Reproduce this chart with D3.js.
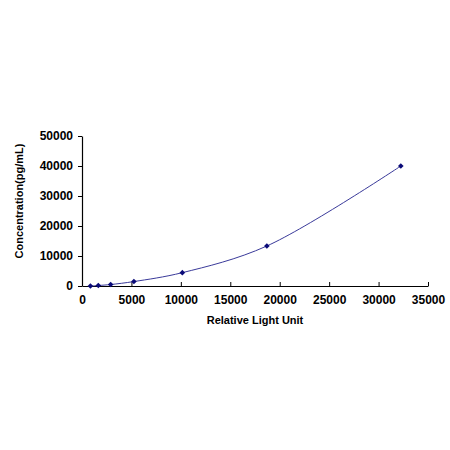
<!DOCTYPE html>
<html><head><meta charset="utf-8">
<script src="https://cdn.jsdelivr.net/npm/d3@7"></script>
<style>body{margin:0;background:#fff}svg{display:block}</style>
</head><body>
<script>
const rlu = [850, 1650, 2900, 5250, 10150, 18700, 32250];
const conc = [0, 165, 494, 1481, 4444, 13333, 40000];
const xTicks = [0, 5000, 10000, 15000, 20000, 25000, 30000, 35000];
const yTicks = [0, 10000, 20000, 30000, 40000, 50000];
const xTitle = "Relative Light Unit";
const yTitle = "Concentration(pg/mL)";

const W = 450, H = 450;
const svg = d3.select("body").append("svg").attr("width", W).attr("height", H);
const x = d3.scaleLinear().domain([0, 35000]).range([82, 428]);
const y = d3.scaleLinear().domain([0, 50000]).range([286, 136]);
const font = "Liberation Sans, Arial, sans-serif";

const gx = svg.append("g").attr("transform", "translate(0,286)")
  .call(d3.axisBottom(x).tickValues(xTicks).tickFormat(d3.format("d")).tickSizeInner(-4).tickSizeOuter(0).tickPadding(9));
const gy = svg.append("g").attr("transform", "translate(82,0)")
  .call(d3.axisLeft(y).tickValues(yTicks).tickFormat(d3.format("d")).tickSizeInner(4).tickSizeOuter(0).tickPadding(5));
[gx, gy].forEach(g => {
  g.select(".domain").attr("stroke", "#000").attr("stroke-width", 1.2);
  g.selectAll(".tick line").attr("stroke", "#000");
  g.selectAll("text").attr("font-family", font).attr("font-weight", "bold").attr("font-size", 12).attr("fill", "#000");
});

const pts = rlu.map((v, i) => [v, conc[i]]);
svg.append("path").datum(pts)
  .attr("d", d3.line().x(d => x(d[0])).y(d => y(d[1])).curve(d3.curveCatmullRom.alpha(0.5)))
  .attr("fill", "none").attr("stroke", "#3a3a9a").attr("stroke-width", 1);

svg.append("g").selectAll("path").data(pts).join("path")
  .attr("d", d3.symbol(d3.symbolDiamond2, 20))
  .attr("transform", d => `translate(${x(d[0])},${y(d[1])})`)
  .attr("fill", "#0a0a78");

svg.append("text").attr("x", 255).attr("y", 324).attr("text-anchor", "middle")
  .attr("font-family", font).attr("font-weight", "bold").attr("font-size", 11).text(xTitle);
svg.append("text").attr("transform", "translate(23,201) rotate(-90)").attr("text-anchor", "middle")
  .attr("font-family", font).attr("font-weight", "bold").attr("font-size", 11).text(yTitle);
</script>
</body></html>
